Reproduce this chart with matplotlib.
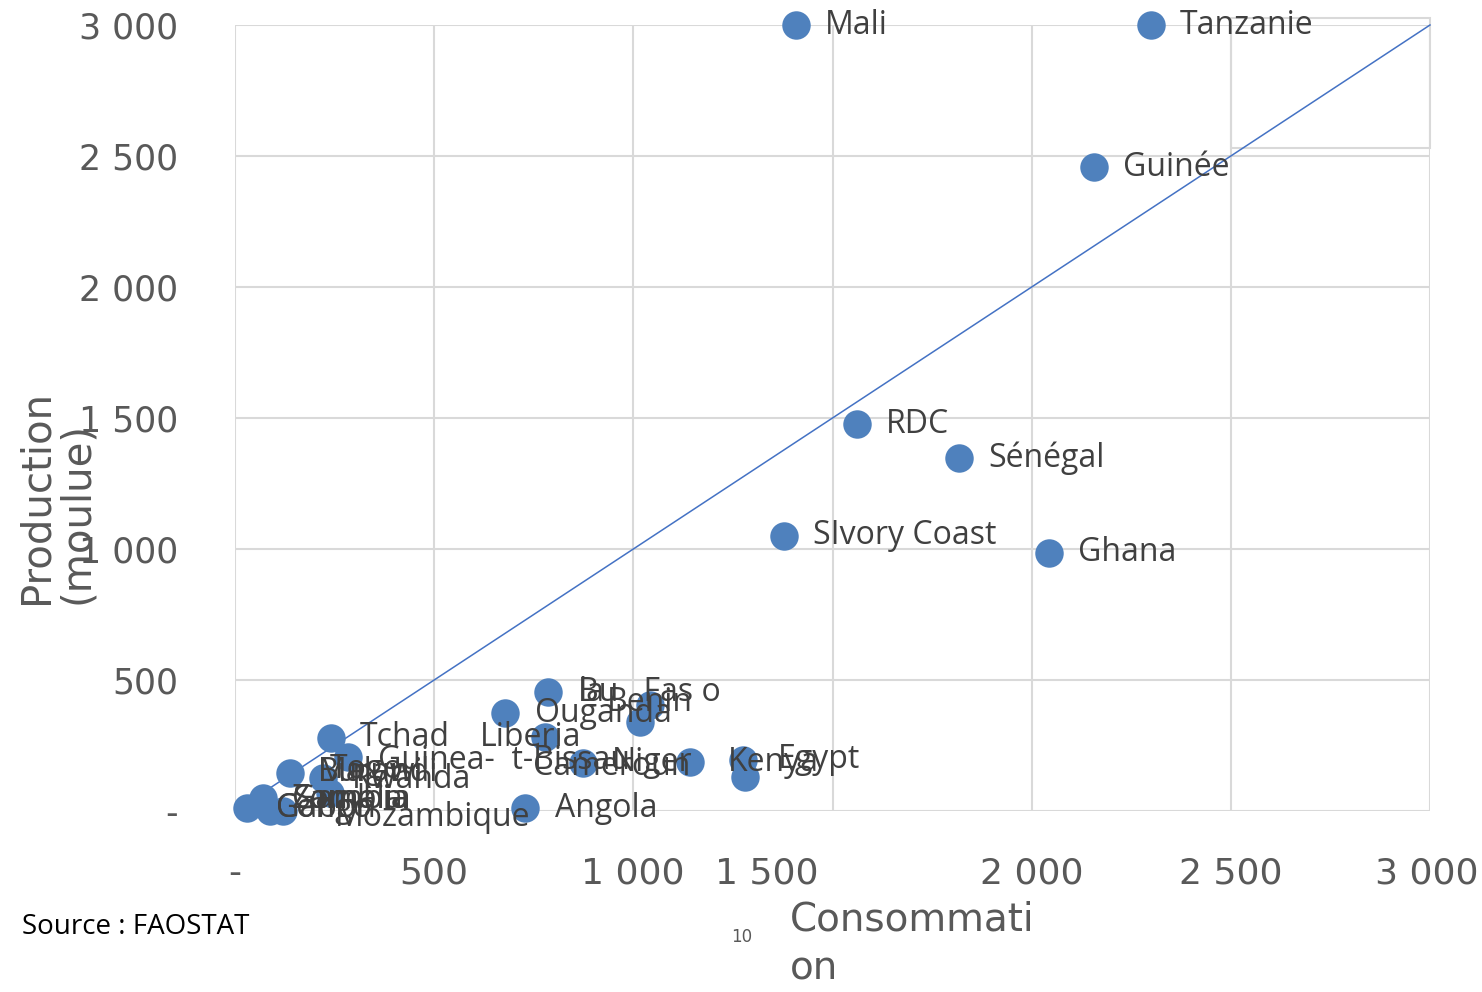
import matplotlib
matplotlib.use("Agg")
import matplotlib.pyplot as plt
from matplotlib.patches import Rectangle

# ---- data -------------------------------------------------------------
consumption = [1408, 2300, 2157, 1562, 1818, 1378, 2044,
               786, 678, 1042, 1017, 241, 778, 284, 874, 1142, 1275, 1280,
               138, 221, 238, 70, 30, 88, 120, 728]
production = [3000, 3000, 2458, 1477, 1347, 1050, 985,
              454, 374, 405, 340, 279, 282, 206, 183, 187, 195, 130,
              145, 126, 69, 50, 11, 0, 0, 11]

# labels: (point index, text)
label_points = [0, 1, 2, 3, 4, 5, 6,
                7, 7, 8, 9, 11, 12, 13, 14, 14, 15, 16,
                18, 18, 18, 19, 21, 21, 21, 22, 22, 24, 25]
label_texts = ["Mali", "Tanzanie", "Guinée", "RDC", "Sénégal", "SIvory Coast", "Ghana",
               "Bu   Fas o", "la", "Ouganda", "Benin", "Tchad", "Liberia",
               "Guinea-  t-Bissau", "Niger", "Cameroun", "Kenya", "Egypt",
               "Malawi", "Burundi", "Togo", "Rwanda", "Zambia", "Gambia", "Somalia",
               "Congo", "Gabon", "Mozambique", "Angola"]
# label placement (pixel offsets from the point, alignment)
label_dx = [29, 29, 29, 29, 29, 29, 29,
            30, 30, 30, 0, 29, -14, 30, 29, 29, 38, 35,
            28, 28, 40, 29, 29, 29, 29, 29, 29, 52, 30]
label_dy = [0, 0, 0, 0, 0, 0, 0,
            0, 0, 0, 2, 0, 0, -3, 1, -3, 0, 0,
            1, 1, 4, -2, -2, -2, -2, 0, 0, -7, 0]
label_ha = ["left"] * 10 + ["center", "left", "center"] + ["left", "left", "center"] + ["left"] * 13

xticks = [0, 500, 1000, 1500, 2000, 2500, 3000]
xtick_labels = ["-", "500", "1 000", "1 500", "2 000", "2 500", "3 000"]
xtick_dx = [0, 0, -1, -66, 0, 0, -3]
yticks = [0, 500, 1000, 1500, 2000, 2500, 3000]
ytick_labels = ["-", "500", "1 000", "1 500", "2 000", "2 500", "3 000"]

# ---- figure -----------------------------------------------------------
W, H = 1482, 992
fig = plt.figure(figsize=(W / 100, H / 100), dpi=100)
ax = fig.add_axes([235 / W, 1 - 811 / H, (1430 - 235) / W, (811 - 25) / H])

blue = "#4F81BD"
grid_c = "#D9D9D9"
txt_c = "#404040"
tick_c = "#595959"
narrow = ["DejaVu Sans"]

ax.set_xlim(0, 3000)
ax.set_ylim(0, 3000)
for s in ax.spines.values():
    s.set_visible(False)

ax.set_xticks(xticks)
ax.set_xticklabels([])
ax.set_yticks(yticks)
ax.set_yticklabels(ytick_labels, fontsize=25, color=tick_c, family="DejaVu Sans")
ax.tick_params(axis="both", length=0)
ax.tick_params(axis="y", pad=41)
ax.grid(True, color=grid_c, lw=1.5, zorder=0)
ax.set_axisbelow(True)

# small grid artifact at top right
ax.add_patch(Rectangle((2500, 2531), 500, 496, fill=False, ec=grid_c, lw=1.5,
                       clip_on=False, zorder=0))

for t, lab, dx in zip(xticks, xtick_labels, xtick_dx):
    ax.annotate(lab, xy=(t, 0), xycoords=("data", "axes fraction"),
                xytext=(dx, -62), textcoords="offset pixels",
                ha="center", va="center", fontsize=26, color=tick_c, family=narrow,
                annotation_clip=False)

# reference line y = x
ax.plot([0, 3000], [0, 3000], color="#4472C4", lw=1.1, zorder=2, clip_on=False)

ax.scatter(consumption, production, s=420, color=blue, zorder=3, clip_on=False,
           linewidths=0)

for i, txt, dx, dy, ha in zip(label_points, label_texts, label_dx, label_dy, label_ha):
    ax.annotate(txt, xy=(consumption[i], production[i]), xytext=(dx, dy),
                textcoords="offset pixels", ha=ha, va="center",
                fontsize=23, color=txt_c, family=["Open Sans", "DejaVu Sans"],
                zorder=4, annotation_clip=False)

# axis titles
fig.text(57 / W, 1 - 497 / H, "Production\n(moulue)", rotation=90,
         ha="center", va="center", multialignment="left", linespacing=1.0,
         fontsize=29, color=tick_c, family=narrow)
fig.text(790 / W, 1 - 944 / H, "Consommati\non", ha="left", va="center",
         linespacing=1.35, fontsize=28, color=tick_c, family=narrow)
fig.text(742 / W, 1 - 937 / H, "10", ha="center", va="center",
         fontsize=12, color=tick_c, family=narrow)
fig.text(22 / W, 1 - 927 / H, "Source : FAOSTAT", ha="left", va="center",
         fontsize=20, color="black", family=["Open Sans", "DejaVu Sans"])

fig.savefig("out.png", dpi=100)
